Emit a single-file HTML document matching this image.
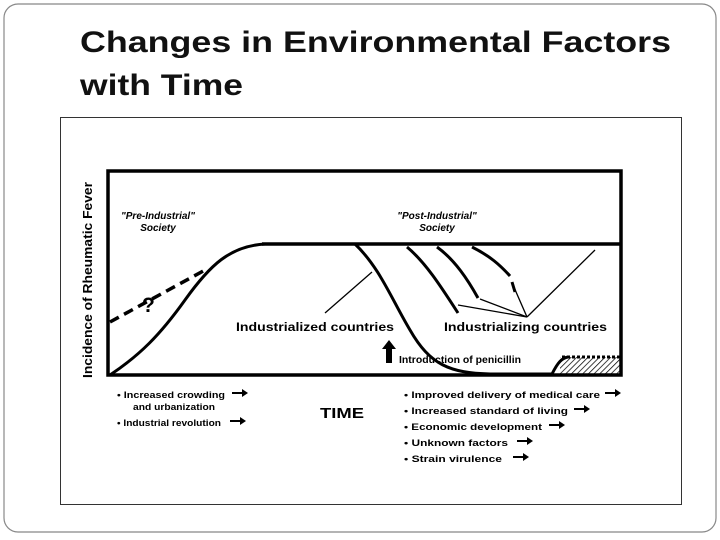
<!DOCTYPE html>
<html><head><meta charset="utf-8"><style>
html,body{margin:0;padding:0;background:#fff;width:720px;height:540px;overflow:hidden}
svg{display:block}
text{font-family:"Liberation Sans",Arial,sans-serif}
</style></head><body>
<svg width="720" height="540" viewBox="0 0 720 540">
<rect x="4" y="4" width="712" height="528" rx="14" fill="#fff" stroke="#888" stroke-width="1.2"/>
<text x="80" y="52" font-size="30" font-weight="bold" fill="#111" textLength="591" lengthAdjust="spacingAndGlyphs">Changes in Environmental Factors</text>
<text x="80" y="95" font-size="30" font-weight="bold" fill="#111" textLength="163" lengthAdjust="spacingAndGlyphs">with Time</text>
<rect x="60.5" y="117.5" width="621" height="387" fill="#fff" stroke="#333" stroke-width="1"/>
<defs><pattern id="hatch" width="4" height="4" patternUnits="userSpaceOnUse" patternTransform="rotate(45)"><line x1="0" y1="0" x2="0" y2="4" stroke="#000" stroke-width="1.5"/></pattern></defs>
<g stroke="#000" fill="none" stroke-linecap="butt">
<rect x="108" y="171" width="513" height="204" stroke-width="3.5"/>
<line x1="262" y1="244" x2="621" y2="244" stroke-width="3.5"/>
<path d="M110,375 C140,355 160,335 185,300 C210,265 230,246 265,244" stroke-width="3"/>
<path d="M110,322 L205,270" stroke-width="3.5" stroke-dasharray="10,6"/>
<path d="M355,244 C380,268 392,300 410,330 C430,365 450,373 490,374 L552,374 C558,362 562,358 568,357" stroke-width="3"/>
<rect x="560" y="357" width="61" height="18" fill="url(#hatch)" stroke="none"/>
<line x1="562" y1="357" x2="621" y2="357" stroke-width="3" stroke-dasharray="3,2"/>
<path d="M407,247 C425,262 440,285 458,313" stroke-width="3"/>
<path d="M437,247 C455,260 468,280 478,298" stroke-width="3"/>
<path d="M472,247 C490,256 500,265 510,276 M512,282 L515,292" stroke-width="3"/>
<g stroke-width="1.3">
<line x1="458" y1="305" x2="527" y2="317"/><line x1="480" y1="299" x2="527" y2="317"/><line x1="513" y1="285" x2="527" y2="317"/><line x1="595" y1="250" x2="527" y2="317"/>
<line x1="325" y1="313" x2="372" y2="272"/>
</g>
</g>
<g font-weight="bold" fill="#000">
<text transform="translate(92,280) rotate(-90)" text-anchor="middle" font-size="12.5" textLength="196" lengthAdjust="spacingAndGlyphs">Incidence of Rheumatic Fever</text>
<text x="158" y="219" text-anchor="middle" font-size="10" font-style="italic">"Pre-Industrial"</text>
<text x="158" y="231" text-anchor="middle" font-size="10" font-style="italic">Society</text>
<text x="437" y="219" text-anchor="middle" font-size="10" font-style="italic">"Post-Industrial"</text>
<text x="437" y="231" text-anchor="middle" font-size="10" font-style="italic">Society</text>
<text x="142" y="312" font-size="21">?</text>
<text x="236" y="331" font-size="11.5" textLength="158" lengthAdjust="spacingAndGlyphs">Industrialized countries</text>
<text x="444" y="331" font-size="11.5" textLength="163" lengthAdjust="spacingAndGlyphs">Industrializing countries</text>
<path d="M386,363 L386,349 L382,349 L389,340 L396,349 L392,349 L392,363 Z"/>
<text x="399" y="363" font-size="10.5" textLength="122" lengthAdjust="spacingAndGlyphs">Introduction of penicillin</text>
<text x="320" y="418" font-size="15" textLength="44" lengthAdjust="spacingAndGlyphs">TIME</text>
<g font-size="9">
<text x="117" y="398" textLength="108" lengthAdjust="spacingAndGlyphs">• Increased crowding</text>
<text x="133" y="410" textLength="82" lengthAdjust="spacingAndGlyphs">and urbanization</text>
<text x="117" y="426" textLength="104" lengthAdjust="spacingAndGlyphs">• Industrial revolution</text>
</g>
<g font-size="9">
<text x="404" y="398" textLength="196" lengthAdjust="spacingAndGlyphs">• Improved delivery of medical care</text>
<text x="404" y="414" textLength="164" lengthAdjust="spacingAndGlyphs">• Increased standard of living</text>
<text x="404" y="430" textLength="138" lengthAdjust="spacingAndGlyphs">• Economic development</text>
<text x="404" y="446" textLength="104" lengthAdjust="spacingAndGlyphs">• Unknown factors</text>
<text x="404" y="462" textLength="98" lengthAdjust="spacingAndGlyphs">• Strain virulence</text>
</g>
<g>
<path d="M232,392 h10 v-3 l6,4 l-6,4 v-3 h-10z"/>
<path d="M230,420 h10 v-3 l6,4 l-6,4 v-3 h-10z"/>
<path d="M605,392 h10 v-3 l6,4 l-6,4 v-3 h-10z"/>
<path d="M574,408 h10 v-3 l6,4 l-6,4 v-3 h-10z"/>
<path d="M549,424 h10 v-3 l6,4 l-6,4 v-3 h-10z"/>
<path d="M517,440 h10 v-3 l6,4 l-6,4 v-3 h-10z"/>
<path d="M513,456 h10 v-3 l6,4 l-6,4 v-3 h-10z"/>
</g>
</g>
</svg>
</body></html>
